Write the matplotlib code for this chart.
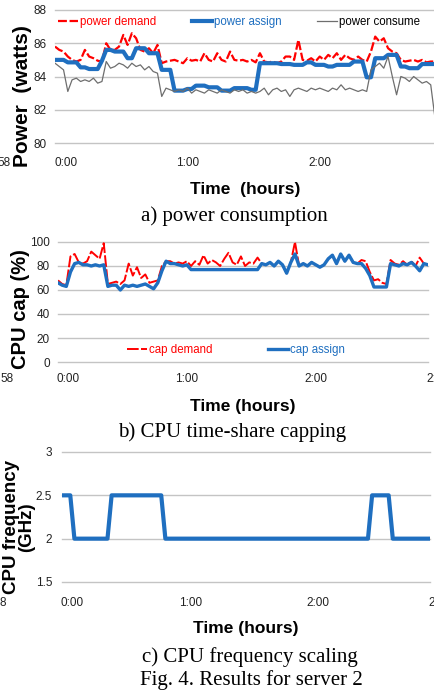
#!/usr/bin/env python3
"""Fig. 4 recreation: power, CPU cap and CPU frequency for server 2."""

import matplotlib

matplotlib.use("Agg")
import matplotlib.pyplot as plt

W, H = 435, 694

# one sample every 2 minutes from the start of the trace
minutes = list(range(0, 180, 2))

power_demand = [
    85.8, 85.6, 85.5, 85.2, 85.0, 84.9, 85.0, 85.6, 85.2, 85.1,
    84.95, 84.9, 86.0, 85.6, 85.6, 85.8, 86.5, 85.9, 86.6, 86.3,
    85.6, 85.5, 85.7, 85.4, 85.9, 84.8, 84.9, 84.95, 85.0, 84.9,
    84.8, 85.1, 84.95, 85.0, 84.9, 85.4, 85.0, 84.9, 85.4, 85.0,
    84.9, 85.5, 85.0, 84.95, 85.0, 84.9, 85.0, 84.85, 85.4, 84.9,
    84.85, 84.9, 84.8, 84.9, 85.2, 85.2, 85.0, 86.2, 85.0, 84.95,
    85.1, 84.9, 85.2, 85.0, 85.3, 85.1, 85.4, 85.0, 85.3, 85.1,
    85.0, 85.2, 85.0, 84.9, 85.5, 86.4, 86.1, 86.3, 85.7, 85.5,
    85.4, 85.0, 84.9, 84.95, 85.0, 84.9, 85.0, 84.85, 84.9, 84.9,
]
power_assign = [
    85.0, 85.0, 85.0, 84.85, 84.85, 84.85, 84.55, 84.55, 84.45, 84.45,
    84.45, 84.95, 85.6, 85.6, 85.5, 85.5, 85.5, 85.1, 85.1, 85.7,
    85.7, 85.7, 85.4, 85.4, 85.4, 84.4, 84.4, 84.4, 83.15, 83.15,
    83.15, 83.25, 83.25, 83.45, 83.45, 83.45, 83.35, 83.35, 83.35, 83.15,
    83.15, 83.15, 83.3, 83.3, 83.3, 83.3, 83.2, 83.2, 84.8, 84.8,
    84.8, 84.8, 84.8, 84.75, 84.75, 84.75, 84.7, 84.7, 84.7, 84.85,
    84.85, 84.7, 84.7, 84.7, 84.6, 84.6, 84.7, 84.7, 84.7, 84.7,
    84.9, 84.9, 84.9, 83.95, 83.95, 85.1, 85.1, 85.1, 85.3, 85.3,
    85.3, 84.6, 84.6, 84.5, 84.5, 84.5, 84.75, 84.75, 84.75, 84.75,
]
power_consume = [
    84.8, 84.6, 84.4, 83.1, 83.8, 83.9, 83.7, 83.8, 83.7, 83.9,
    83.6, 83.7, 84.9, 84.5, 84.6, 84.8, 84.7, 84.5, 84.8, 84.6,
    84.7, 84.4, 84.6, 84.3, 84.2, 82.8, 83.3, 83.2, 83.1, 83.2,
    83.1, 83.3, 83.0, 83.2, 83.1, 83.0, 83.2, 83.1, 83.0, 83.2,
    83.1, 83.0, 83.2, 83.1, 83.2, 83.0, 83.1, 83.0, 83.1, 83.3,
    82.9, 83.2, 83.3, 83.1, 83.2, 82.8, 83.2, 83.3, 83.2, 83.1,
    83.3, 83.2, 83.3, 83.2, 83.1, 83.3, 83.2, 83.5, 83.2, 83.3,
    83.2, 83.1, 83.2, 83.1, 84.4, 84.6, 84.8, 84.5, 85.2, 84.0,
    82.9, 84.0, 83.9, 83.7, 84.0, 83.8, 83.6, 83.7, 83.5, 81.5,
]

cap_demand = [
    68, 65, 64, 88, 90, 83, 82, 84, 92, 89,
    86, 99, 65, 66, 67, 65, 68, 82, 72, 79,
    70, 73, 66, 67, 68, 80, 84, 84, 82, 83,
    82, 84, 80, 84, 81, 89, 82, 85, 83, 80,
    86, 91, 83, 81, 88, 80, 83, 82, 87, 82,
    81, 83, 80, 84, 81, 74, 83, 100, 80, 82,
    80, 83, 81, 79, 81, 86, 89, 82, 90, 84,
    89, 83, 82, 85, 84, 75, 68, 69, 66, 65,
    85, 82, 81, 84, 81, 84, 80, 87, 82, 81,
]
cap_assign = [
    66, 64, 63, 75, 82, 83, 81, 81, 80, 81,
    80, 81, 63, 64, 64, 60, 64, 63, 64, 63,
    64, 65, 63, 61, 66, 76, 84, 82, 82, 81,
    80, 81, 77, 77, 77, 77, 77, 77, 77, 77,
    77, 77, 77, 77, 77, 77, 77, 77, 77, 82,
    81, 83, 80, 84, 81, 74, 83, 90, 80, 82,
    80, 83, 81, 79, 81, 86, 89, 82, 90, 84,
    89, 83, 82, 82, 78, 72, 62.5, 62.5, 62.5, 62.5,
    82, 81, 80, 82, 81, 83, 80, 76, 82, 81,
]

cpu_freq = [
    2.5, 2.5, 2.5, 2.0, 2.0, 2.0, 2.0, 2.0, 2.0, 2.0,
    2.0, 2.0, 2.5, 2.5, 2.5, 2.5, 2.5, 2.5, 2.5, 2.5,
    2.5, 2.5, 2.5, 2.5, 2.5, 2.0, 2.0, 2.0, 2.0, 2.0,
    2.0, 2.0, 2.0, 2.0, 2.0, 2.0, 2.0, 2.0, 2.0, 2.0,
    2.0, 2.0, 2.0, 2.0, 2.0, 2.0, 2.0, 2.0, 2.0, 2.0,
    2.0, 2.0, 2.0, 2.0, 2.0, 2.0, 2.0, 2.0, 2.0, 2.0,
    2.0, 2.0, 2.0, 2.0, 2.0, 2.0, 2.0, 2.0, 2.0, 2.0,
    2.0, 2.0, 2.0, 2.0, 2.0, 2.5, 2.5, 2.5, 2.5, 2.5,
    2.0, 2.0, 2.0, 2.0, 2.0, 2.0, 2.0, 2.0, 2.0, 2.0,
]

tick_minutes = [5, 62, 124]
tick_labels = ["0:00", "1:00", "2:00"]

RED = "#ff0000"
BLUE = "#1f6fc0"
GRAY = "#6e6e6e"
GRID = "#c4c4c4"
TICK = "#222222"
SANS = ["Liberation Sans", "DejaVu Sans"]
SERIF = ["Liberation Serif", "DejaVu Serif"]

plt.rcParams["font.family"] = SANS


def px_axes(fig, left, top, right, bottom):
    return fig.add_axes([left / W, 1 - bottom / H, (right - left) / W, (bottom - top) / H])


def fig_text(fig, x, y, s, **kw):
    return fig.text(x / W, 1 - y / H, s, **kw)


def style_axes(ax, yticks, ylabels, ypad, xpad):
    for spine in ax.spines.values():
        spine.set_visible(False)
    ax.set_xlim(0, 178)
    ax.set_ylim(yticks[0], yticks[-1])
    ax.set_yticks(yticks, ylabels)
    ax.set_xticks(tick_minutes, tick_labels)
    ax.grid(axis="y", color=GRID, linewidth=1)
    for gl in ax.get_ygridlines():
        gl.set_clip_on(False)
    ax.set_axisbelow(True)
    ax.tick_params(axis="both", length=0, labelsize=8.5, colors=TICK)
    ax.tick_params(axis="y", pad=ypad)
    ax.tick_params(axis="x", pad=xpad)


def main() -> None:
    fig = plt.figure(figsize=(W / 100, H / 100), dpi=100)

    # a) power consumption
    ax = px_axes(fig, 55, 10, 435, 143)
    ax.plot(minutes, power_demand, color=RED, lw=1.6, dashes=(4, 1.2), label="power demand")
    ax.plot(minutes, power_assign, color=BLUE, lw=3.0, label="power assign")
    ax.plot(minutes, power_consume, color=GRAY, lw=0.9, label="power consume")
    style_axes(ax, [80, 82, 84, 86, 88], ["80", "82", "84", "86", "88"], 6, 10)
    ax.legend(loc="center left", bbox_to_anchor=(0.008, 0.91), ncol=3, frameon=False,
              fontsize=8.3, handlelength=1.74, handletextpad=0.17, columnspacing=3.1,
              borderpad=0, borderaxespad=0, labelcolor=[RED, BLUE, "black"])
    fig_text(fig, 23, 96, "Power  (watts)", rotation=90, ha="center", va="center",
             fontsize=15, fontweight="bold")
    fig_text(fig, 10.5, 163, "58", ha="right", va="center", fontsize=8.5, color=TICK)
    fig_text(fig, 245, 190, "Time  (hours)", ha="center", va="center",
             fontsize=12.5, fontweight="bold")
    fig_text(fig, 234, 216, "a) power consumption", ha="center", va="center",
             fontsize=15, family=SERIF)

    # b) CPU time-share capping
    ax = px_axes(fig, 58, 242, 428, 362)
    ax.plot(minutes, cap_demand, color=RED, lw=1.4, dashes=(6, 1.2), label="cap demand")
    ax.plot(minutes, cap_assign, color=BLUE, lw=2.4, label="cap assign")
    style_axes(ax, [0, 20, 40, 60, 80, 100], ["0", "20", "40", "60", "80", "100"], 6, 8)
    ax.legend(loc="center left", bbox_to_anchor=(0.186, 0.10), ncol=2, frameon=False,
              fontsize=8.3, handlelength=1.74, handletextpad=0.2, columnspacing=4.8,
              borderpad=0, borderaxespad=0, labelcolor=[RED, BLUE])
    fig_text(fig, 21, 309, "CPU cap (%)", rotation=90, ha="center", va="center",
             fontsize=14.5, fontweight="bold")
    fig_text(fig, 0, 379, "58", ha="left", va="center", fontsize=8.5, color=TICK)
    fig_text(fig, 426, 379, "2:", ha="left", va="center", fontsize=8.5, color=TICK)
    fig_text(fig, 243, 406, "Time (hours)", ha="center", va="center",
             fontsize=12.5, fontweight="bold")
    fig_text(fig, 232, 432, "b) CPU time-share capping", ha="center", va="center",
             fontsize=15, family=SERIF)

    # c) CPU frequency scaling
    ax = px_axes(fig, 62, 452, 430, 582)
    ax.plot(minutes, cpu_freq, color=BLUE, lw=3.0)
    style_axes(ax, [1.5, 2.0, 2.5, 3.0], ["1.5", "2", "2.5", "3"], 7, 11)
    fig_text(fig, 19, 527, "CPU frequency\n(GHz)", rotation=90, ha="center", va="center",
             fontsize=13.5, fontweight="bold", linespacing=0.9, multialignment="center")
    fig_text(fig, 0, 603, "8", ha="left", va="center", fontsize=8.5, color=TICK)
    fig_text(fig, 428, 603, "2", ha="left", va="center", fontsize=8.5, color=TICK)
    fig_text(fig, 246, 628, "Time (hours)", ha="center", va="center",
             fontsize=12.5, fontweight="bold")
    fig_text(fig, 250, 657, "c) CPU frequency scaling", ha="center", va="center",
             fontsize=15, family=SERIF)
    fig_text(fig, 251, 680, "Fig. 4. Results for server 2", ha="center", va="center",
             fontsize=15, family=SERIF)

    fig.savefig("out.png", dpi=100)
    plt.close(fig)


if __name__ == "__main__":
    main()
